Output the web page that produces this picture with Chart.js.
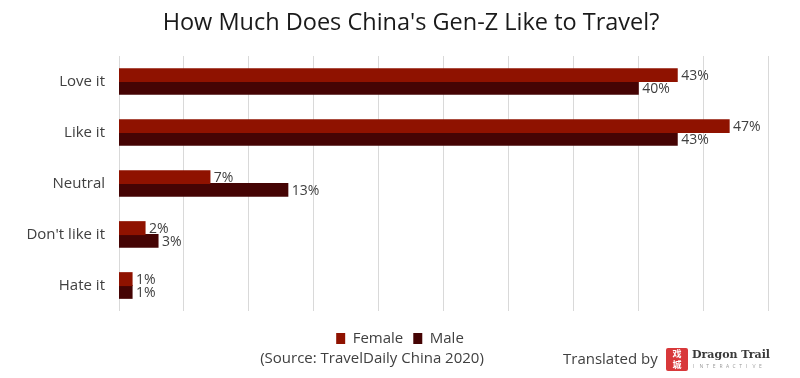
<!DOCTYPE html>
<html>
<head>
<meta charset="utf-8">
<script src="https://cdn.jsdelivr.net/npm/chart.js@4.4.0/dist/chart.umd.min.js"></script>
<style>
html,body{margin:0;padding:0;background:#fff;}
#wrap{width:800px;height:378px;position:relative;}
</style>
</head>
<body>
<div id="wrap"><canvas id="c" width="800" height="378"></canvas></div>
<script>
const categories = ["Love it", "Like it", "Neutral", "Don't like it", "Hate it"];
const femaleValues = [43, 47, 7, 2, 1];
const maleValues = [40, 43, 13, 3, 1];
const seriesNames = ["Female", "Male"];
const xMax = 50;
const xStep = 5;

const FONT = "'Open Sans', sans-serif";

const labelPlugin = {
  id: 'labels',
  afterDatasetsDraw(chart) {
    const ctx = chart.ctx;
    ctx.save();
    ctx.font = "14px " + FONT;
    ctx.fillStyle = '#404040';
    ctx.textAlign = 'left';
    ctx.textBaseline = 'middle';
    chart.data.datasets.forEach((ds, i) => {
      const meta = chart.getDatasetMeta(i);
      meta.data.forEach((bar, j) => {
        ctx.fillText(ds.data[j] + '%', bar.x + 4, bar.y + 1);
      });
    });
    ctx.restore();
  }
};

const legendShift = {
  id: 'legendShift',
  afterLayout(chart) {
    const lg = chart.legend;
    if (lg) { lg.left += 16; lg.right += 16; }
  }
};

const decorPlugin = {
  id: 'decor',
  afterDraw(chart) {
    const ctx = chart.ctx;
    ctx.save();
    ctx.fillStyle = '#1a1a1a';
    ctx.textAlign = 'center';
    ctx.textBaseline = 'middle';
    ctx.font = "23.5px " + FONT;
    ctx.fillText("How Much Does China's Gen-Z Like to Travel?", 411, 23);
    ctx.fillStyle = '#404040';
    ctx.font = "15px " + FONT;
    ctx.fillText("(Source: TravelDaily China 2020)", 372, 359);
    ctx.textAlign = 'left';
    ctx.fillText("Translated by", 563, 360);
    // logo
    ctx.fillStyle = '#d8383a';
    ctx.beginPath();
    ctx.roundRect(666, 348, 22, 23, 2);
    ctx.fill();
    ctx.fillStyle = '#ffffff';
    ctx.font = "bold 9px 'Noto Sans CJK SC'";
    ctx.textAlign = 'center';
    ctx.fillText("戏", 677, 354);
    ctx.fillText("城", 677, 365);
    ctx.fillStyle = '#3a3a3a';
    ctx.textAlign = 'left';
    ctx.font = "bold 11px 'DejaVu Serif', serif";
    ctx.fillText("Dragon Trail", 692, 355);
    ctx.fillStyle = '#9a9a9a';
    ctx.font = "5px " + FONT;
    const s = "INTERACTIVE";
    for (let k = 0; k < s.length; k++) ctx.fillText(s[k], 693 + k * 6.6, 367);
    ctx.restore();
  }
};

new Chart(document.getElementById('c'), {
  type: 'bar',
  data: {
    labels: categories,
    datasets: [
      { label: seriesNames[0], data: femaleValues, backgroundColor: '#8f1200', borderWidth: 0, inflateAmount: 0.6 },
      { label: seriesNames[1], data: maleValues, backgroundColor: '#450404', borderWidth: 0, inflateAmount: 0.6 }
    ]
  },
  options: {
    indexAxis: 'y',
    responsive: false,
    animation: false,
    events: [],
    layout: { padding: { top: 56, right: 32, bottom: 22, left: 0 } },
    datasets: { bar: { categoryPercentage: 0.5, barPercentage: 1.0 } },
    scales: {
      x: {
        min: 0, max: xMax,
        ticks: { display: false, stepSize: xStep },
        grid: { color: '#d9d9d9', drawTicks: false },
        border: { display: false },
        afterFit(scale) { scale.height = 10; }
      },
      y: {
        ticks: { color: '#404040', font: { size: 15, family: FONT }, padding: 14 },
        grid: { display: false, drawTicks: false },
        border: { display: false },
        afterFit(scale) { scale.width = 119; }
      }
    },
    plugins: {
      legend: {
        position: 'bottom',
        labels: { boxWidth: 9, boxHeight: 11, color: '#404040', font: { size: 15, family: FONT }, padding: 10 }
      },
      tooltip: { enabled: false }
    }
  },
  plugins: [labelPlugin, legendShift, decorPlugin]
});
</script>
</body>
</html>
